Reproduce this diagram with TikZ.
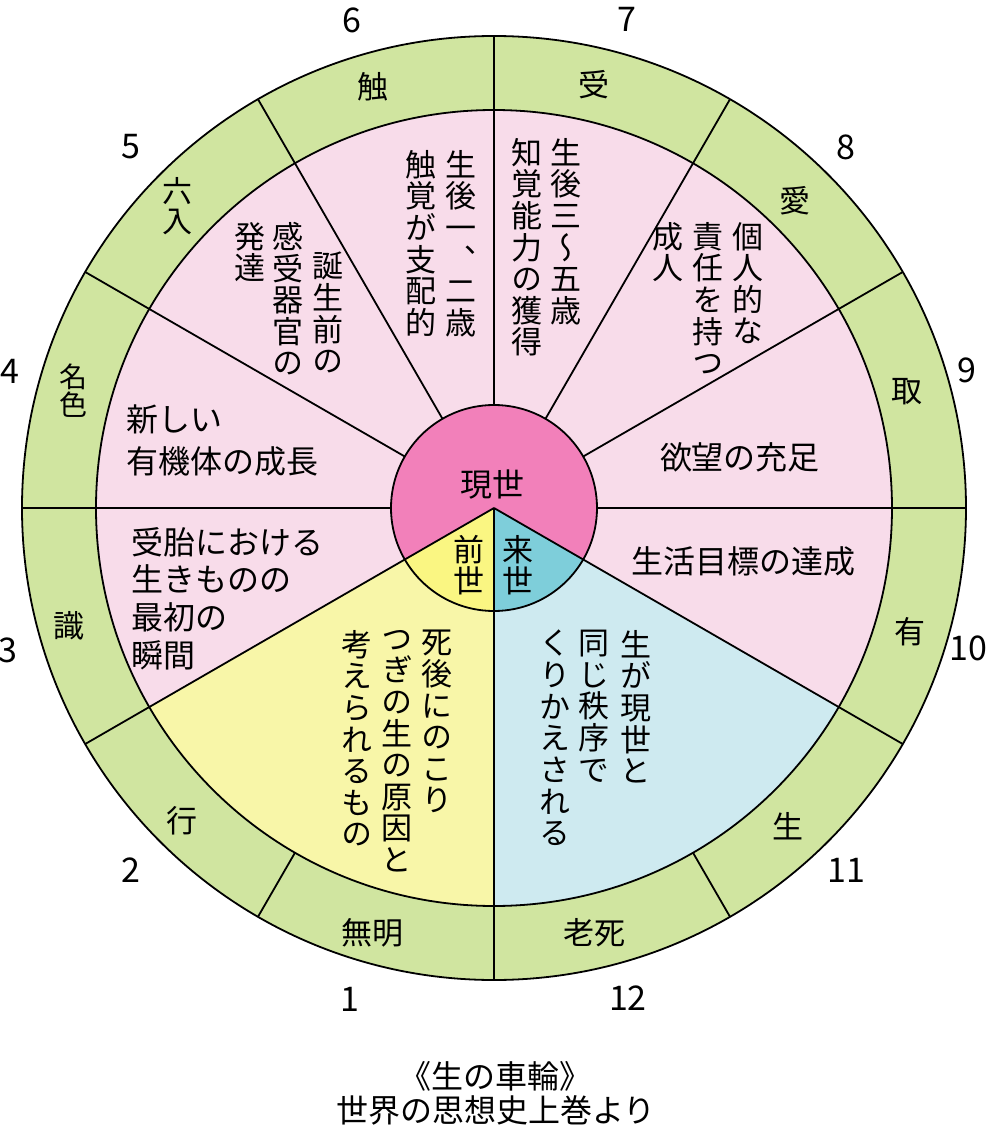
\documentclass[tikz,border=0pt]{standalone}
\usepackage{fontspec}
\setmainfont{Noto Sans CJK JP}
\newfontfamily\jpvert[RawFeature=+vert]{Noto Sans CJK JP}
\usepackage{tikz}
\usetikzlibrary{positioning}

\definecolor{ringgreen}{HTML}{D0E5A0}
\definecolor{midpink}{HTML}{F8DCEA}
\definecolor{corepink}{HTML}{F280BA}
\definecolor{inyellow}{HTML}{FAF682}
\definecolor{outyellow}{HTML}{F8F6A8}
\definecolor{inblue}{HTML}{7ECEDA}
\definecolor{outblue}{HTML}{CEEAF0}

% stack the characters of a text in one column
\makeatletter
\newcommand\tatetext[2][1.02em]{\vbox{\jpvert\baselineskip=#1\lineskiplimit=-100pt\relax
  \@tfor\tch:=#2\do{\hbox to 1em{\hss\tch\hss}}}}
\makeatother

\begin{document}
\begin{tikzpicture}[x=1pt, y=1pt,
  wheel/.style={line width=1.8pt, black},
  ringlabel/.style={inner sep=0, font=\fontsize{31}{33}\selectfont},
  numlabel/.style={inner sep=0, font=\fontsize{34}{36}\selectfont},
  bodytext/.style={inner sep=0, align=left, font=\fontsize{32}{42}\selectfont},
  tatecol/.style={inner sep=0, anchor=north, font=\fontsize{31}{32}\selectfont}]
  \useasboundingbox (-494,-617) rectangle (493,508);

  % Rings and sectors
  \fill[ringgreen] (0,0) circle (472pt);
  \fill[midpink] (0,0) circle (398pt);
  \fill[outyellow] (0,0) -- (210:398pt) arc[start angle=210, end angle=270, radius=398pt] -- cycle;
  \fill[outblue] (0,0) -- (270:398pt) arc[start angle=270, end angle=330, radius=398pt] -- cycle;
  \fill[corepink] (0,0) circle (103pt);
  \fill[inyellow] (0,0) -- (210:103pt) arc[start angle=210, end angle=270, radius=103pt] -- cycle;
  \fill[inblue] (0,0) -- (270:103pt) arc[start angle=270, end angle=330, radius=103pt] -- cycle;

  % Circles and spokes
  \draw[wheel] (0,0) circle (472pt) (0,0) circle (398pt) (0,0) circle (103pt);
  \foreach \a in {0,30,...,180} \draw[wheel] (\a:103pt) -- (\a:472pt);
  \foreach \a in {210,270,330} \draw[wheel] (0,0) -- (\a:472pt);
  \foreach \a in {240,300} \draw[wheel] (\a:398pt) -- (\a:472pt);

  % Twelve links in the outer ring
  \foreach \n/\x/\y/\t in {1/-121/-425/無明, 2/-312/-313/行, 3/-425/-118/識, 6/-121/421/触,
      7/100/423/受, 8/301/307/愛, 9/413/116/取, 10/416/-124/有, 11/294/-318/生, 12/101/-425/老死}
    \node[ringlabel] (link\n) at (\x,\y) {\t};
  \node[ringlabel, font=\fontsize{28}{30}\selectfont] (link4) at (-420,117) {\tatetext[1em]{名色}};
  \node[ringlabel, font=\fontsize{30}{32}\selectfont] (link5) at (-316,302) {\tatetext[1em]{六入}};

  % Numbers round the wheel
  \foreach \n/\x/\y in {1/-144/-491, 2/-363/-362, 3/-486/-142, 4/-484/137, 5/-363/361, 6/-142/488,
      7/133/489, 8/352/361, 9/473/138, 10/474/-140, 11/352/-362, 12/134/-490}
    \node[numlabel] (num\n) at (\x,\y) {\n};

  % Middle ring, vertical columns
  \node[tatecol] (shokuA) at (-33,358) {\tatetext{生後一、二歳}};
  \node[tatecol] (shokuB) at (-73,358) {\tatetext{触覚が支配的}};
  \node[tatecol] (rokuA) at (-166,256) {\tatetext{誕生前の}};
  \node[tatecol] (rokuB) at (-206,286) {\tatetext{感受器官の}};
  \node[tatecol] (rokuC) at (-244,286) {\tatetext{発達}};
  \node[tatecol] (juA) at (72,370) {\tatetext{生後三〜五歳}};
  \node[tatecol] (juB) at (33,370) {\tatetext{知覚能力の獲得}};
  \node[tatecol] (aiA) at (254,286) {\tatetext{個人的な}};
  \node[tatecol] (aiB) at (214,286) {\tatetext{責任を持つ}};
  \node[tatecol] (aiC) at (174,286) {\tatetext{成人}};
  \node[tatecol] (kakoA) at (-57,-122) {\tatetext{死後にのこり}};
  \node[tatecol] (kakoB) at (-97,-122) {\tatetext{つぎの生の原因と}};
  \node[tatecol] (kakoC) at (-137,-122) {\tatetext{考えられるもの}};
  \node[tatecol] (miraiA) at (142,-122) {\tatetext{生が現世と}};
  \node[tatecol] (miraiB) at (100,-122) {\tatetext{同じ秩序で}};
  \node[tatecol] (miraiC) at (61,-122) {\tatetext{くりかえされる}};

  % Middle ring, horizontal texts
  \node[bodytext, anchor=north west] (meishiki) at (-368,103) {新しい\\有機体の成長};
  \node[bodytext, anchor=north west, font=\fontsize{32}{37.7}\selectfont] (shiki) at (-363,-19)
    {受胎における\\生きものの\\最初の\\瞬間};
  \node[bodytext] (shu) at (246,51) {欲望の充足};
  \node[bodytext] (u) at (250,-53) {生活目標の達成};

  % Core
  \node[ringlabel, font=\fontsize{32}{34}\selectfont] (genze) at (-1,23) {現世};
  \node[tatecol] (zenze) at (-25,-27) {\tatetext[1.0em]{前世}};
  \node[tatecol] (raise) at (24,-27) {\tatetext[1.0em]{来世}};

  % Caption
  \node[bodytext] (title) at (2,-568) {《生の車輪》};
  \node[bodytext] (source) at (2,-602) {世界の思想史上巻より};
\end{tikzpicture}
\end{document}
